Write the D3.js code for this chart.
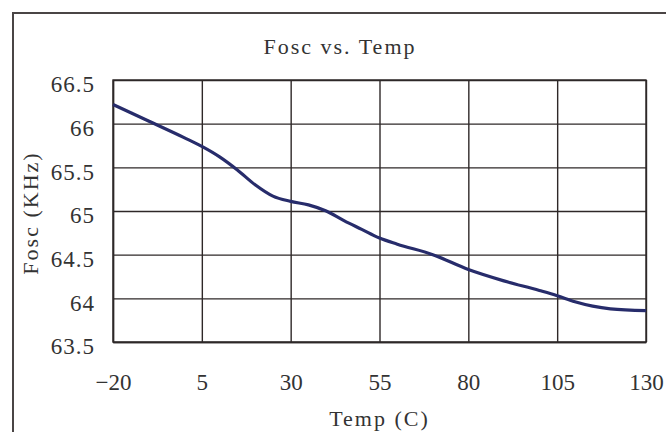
<!DOCTYPE html>
<html lang="en">
<head>
    <meta charset="UTF-8">
    <script src="https://d3js.org/d3.v7.min.js"></script>
    <title>Fosc vs. Temp</title>
    <style>
        body { margin: 0; background: #fff; }
        text { font-family: "Liberation Serif", "DejaVu Serif", serif; fill: #333; }
    </style>
</head>
<body>
<script>
    // data
    var temps = [-20, -10, 0, 5, 10, 15, 20, 25, 30, 35, 40, 45, 50, 55, 60, 70, 80, 90, 100, 105, 110, 115, 120, 130];
    var fosc = [66.22, 66.03, 65.84, 65.74, 65.62, 65.47, 65.30, 65.17, 65.11, 65.07, 65.00, 64.89, 64.79, 64.69, 64.62, 64.50, 64.33, 64.20, 64.09, 64.03, 63.96, 63.91, 63.88, 63.86];
    var xTicks = [-20, 5, 30, 55, 80, 105, 130];
    var yTicks = [63.5, 64, 64.5, 65, 65.5, 66, 66.5];

    var W = 666, H = 432;
    var m = {left: 113, top: 80, right: 20, bottom: 90};
    var w = 646 - m.left, h = 342 - m.top;

    var svg = d3.select("body").append("svg")
        .attr("width", W).attr("height", H);

    // outer frame (runs off the picture on right and bottom)
    svg.append("rect")
        .attr("x", 13).attr("y", 13)
        .attr("width", 720).attr("height", 500)
        .attr("fill", "none").attr("stroke", "#4a4545").attr("stroke-width", 2);

    var x = d3.scaleLinear().domain([-20, 130]).range([0, w]);
    var y = d3.scaleLinear().domain([63.5, 66.5]).range([h, 0]);

    var g = svg.append("g").attr("transform", "translate(" + m.left + "," + m.top + ")");

    // x axis + vertical grid
    var xa = g.append("g").attr("transform", "translate(0," + h + ")")
        .call(d3.axisBottom(x).tickValues(xTicks).tickSizeInner(-h).tickSizeOuter(0).tickPadding(32));
    // y axis + horizontal grid
    var ya = g.append("g")
        .call(d3.axisLeft(y).tickValues(yTicks).tickSizeInner(-w).tickSizeOuter(0).tickPadding(18)
            .tickFormat(function(d) { return d; }));

    [xa, ya].forEach(function(a) {
        a.selectAll("line").attr("stroke", "#2e2828").attr("stroke-width", 1.4);
        a.select(".domain").attr("stroke", "#2e2828").attr("stroke-width", 1.4);
        a.selectAll("text").attr("font-size", 23).attr("fill", "#333")
            .style("font-family", "'Liberation Serif', serif");
    });
    ya.selectAll("text").attr("dy", "0.52em").style("letter-spacing", "1px");

    g.append("rect").attr("width", w).attr("height", h)
        .attr("fill", "none").attr("stroke", "#2e2828").attr("stroke-width", 1.4);

    // the curve
    var line = d3.line()
        .x(function(d, i) { return x(temps[i]); })
        .y(function(d) { return y(d); })
        .curve(d3.curveMonotoneX);

    g.append("path").datum(fosc)
        .attr("d", line)
        .attr("fill", "none")
        .attr("stroke", "#272c6b")
        .attr("stroke-width", 3.2)
        .attr("stroke-linejoin", "round");

    // title and axis labels
    svg.append("text").attr("x", 340).attr("y", 54)
        .attr("text-anchor", "middle").attr("font-size", 22)
        .style("letter-spacing", "2px")
        .text("Fosc vs. Temp");

    svg.append("text").attr("x", m.left + w / 2).attr("y", 426)
        .attr("text-anchor", "middle").attr("font-size", 22)
        .style("letter-spacing", "2px")
        .text("Temp (C)");

    svg.append("text")
        .attr("transform", "translate(38," + (m.top + h / 2 + 2) + ") rotate(-90)")
        .attr("text-anchor", "middle").attr("font-size", 22)
        .style("letter-spacing", "2px")
        .text("Fosc (KHz)");
</script>
</body>
</html>
